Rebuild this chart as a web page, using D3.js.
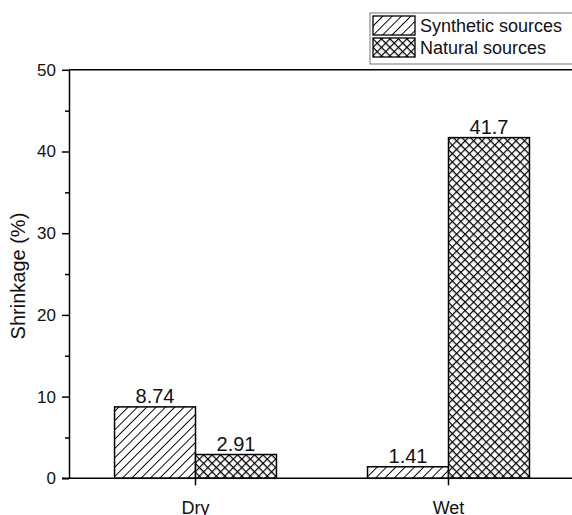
<!DOCTYPE html>
<html>
<head>
<meta charset="utf-8">
<script src="https://cdn.jsdelivr.net/npm/d3@7"></script>
<style>
  html, body { margin: 0; padding: 0; background: #fff; }
  svg { display: block; font-family: "Liberation Sans", Arial, sans-serif; }
</style>
</head>
<body>
<div id="chart"></div>
<script>
const categories = ["Dry", "Wet"];
const seriesNames = ["Synthetic sources", "Natural sources"];
const synthetic = [8.74, 1.41];
const natural = [2.91, 41.7];
const yTicks = [0, 10, 20, 30, 40, 50];
const yMinorTicks = [5, 15, 25, 35, 45];

const width = 572, height = 515;
const plot = { left: 69, right: 575, top: 69.8, bottom: 478.3 };

const svg = d3.select("#chart").append("svg")
    .attr("width", width)
    .attr("height", height);

const defs = svg.append("defs");

// diagonal "/" hatch
const hatch = defs.append("pattern")
    .attr("id", "hatch")
    .attr("patternUnits", "userSpaceOnUse")
    .attr("width", 6.6).attr("height", 6.6)
    .attr("patternTransform", "rotate(45)");
hatch.append("rect").attr("width", 6.6).attr("height", 6.6).attr("fill", "#fff");
hatch.append("line")
    .attr("x1", 0).attr("y1", 0).attr("x2", 0).attr("y2", 6.6)
    .attr("stroke", "#000").attr("stroke-width", 1.9);

// crosshatch
const cross = defs.append("pattern")
    .attr("id", "cross")
    .attr("patternUnits", "userSpaceOnUse")
    .attr("width", 6).attr("height", 6)
    .attr("patternTransform", "rotate(45)");
cross.append("rect").attr("width", 6).attr("height", 6).attr("fill", "#fff");
cross.append("path")
    .attr("d", "M0,0V6M0,0H6")
    .attr("stroke", "#000").attr("stroke-width", 2.4)
    .attr("fill", "none");

const fills = ["url(#hatch)", "url(#cross)"];

const x = d3.scaleBand()
    .domain(categories)
    .range([plot.left, plot.right]);

const groupWidth = x.bandwidth() * 0.64;
const x1 = d3.scaleBand()
    .domain(seriesNames)
    .range([0, groupWidth]);

const y = d3.scaleLinear()
    .domain([0, 50])
    .range([plot.bottom, plot.top]);

const rows = categories.map((c, i) => ({ cat: c, values: [synthetic[i], natural[i]] }));

// top frame line
svg.append("line")
    .attr("x1", plot.left).attr("x2", width + 5)
    .attr("y1", y(50)).attr("y2", y(50))
    .attr("stroke", "#000").attr("stroke-width", 1.5);

// bars
const groups = svg.selectAll("g.grp")
    .data(rows)
    .enter()
    .append("g")
    .attr("class", "grp")
    .attr("transform", d => `translate(${x(d.cat) + x.bandwidth() / 2 - groupWidth / 2},0)`);

groups.selectAll("rect")
    .data(d => d.values.map((v, i) => ({ s: seriesNames[i], v, i })))
    .enter()
    .append("rect")
    .attr("x", d => x1(d.s))
    .attr("y", d => y(d.v))
    .attr("width", x1.bandwidth())
    .attr("height", d => y(0) - y(d.v))
    .attr("fill", d => fills[d.i])
    .attr("stroke", "#000")
    .attr("stroke-width", 1.5);

groups.selectAll("text")
    .data(d => d.values.map((v, i) => ({ s: seriesNames[i], v, i })))
    .enter()
    .append("text")
    .attr("x", d => x1(d.s) + x1.bandwidth() / 2)
    .attr("y", d => y(d.v) - 4)
    .attr("text-anchor", "middle")
    .attr("font-size", 20)
    .attr("fill", "#111")
    .text(d => d.v);

// y axis
const yAxis = svg.append("g")
    .attr("transform", `translate(${plot.left},0)`)
    .call(d3.axisLeft(y).tickValues(yTicks).tickSize(7).tickSizeOuter(0).tickPadding(6));
yAxis.selectAll("text").attr("font-size", 17).attr("fill", "#111")
    .attr("font-family", "Liberation Sans, Arial, sans-serif");
yAxis.select(".domain").attr("stroke-width", 1.5);
yAxis.selectAll(".tick line").attr("stroke-width", 1.5);

svg.append("g")
    .attr("transform", `translate(${plot.left},0)`)
    .call(d3.axisLeft(y).tickValues(yMinorTicks).tickSize(4).tickFormat(""))
    .call(g => g.select(".domain").remove())
    .selectAll("line").attr("stroke-width", 1.5);

// x axis
const xAxis = svg.append("g")
    .attr("transform", `translate(0,${plot.bottom})`)
    .call(d3.axisBottom(x).tickSize(7).tickSizeOuter(0).tickPadding(16));
xAxis.selectAll("text").attr("font-size", 18).attr("fill", "#111")
    .attr("font-family", "Liberation Sans, Arial, sans-serif");
xAxis.select(".domain").attr("d", `M${plot.left - 7},0H${width + 5}`).attr("stroke-width", 1.5);
xAxis.selectAll(".tick line").attr("stroke-width", 1.5);

// y title
svg.append("text")
    .attr("transform", `translate(25,${(plot.top + plot.bottom) / 2 + 2}) rotate(-90)`)
    .attr("text-anchor", "middle")
    .attr("font-size", 20)
    .attr("fill", "#111")
    .text("Shrinkage (%)");

// legend
const legend = svg.append("g").attr("transform", "translate(370,13)");
legend.append("rect")
    .attr("x", 0).attr("y", 0)
    .attr("width", 220).attr("height", 51)
    .attr("fill", "#fff")
    .attr("stroke", "#777").attr("stroke-width", 1);

const items = legend.selectAll("g.item")
    .data(seriesNames)
    .enter()
    .append("g")
    .attr("class", "item")
    .attr("transform", (d, i) => `translate(3,${3 + i * 22})`);
items.append("rect")
    .attr("width", 42).attr("height", 19)
    .attr("fill", (d, i) => fills[i])
    .attr("stroke", "#000").attr("stroke-width", 1.3);
items.append("text")
    .attr("x", 47).attr("y", 16)
    .attr("font-size", 18)
    .attr("fill", "#111")
    .text(d => d);
</script>
</body>
</html>
